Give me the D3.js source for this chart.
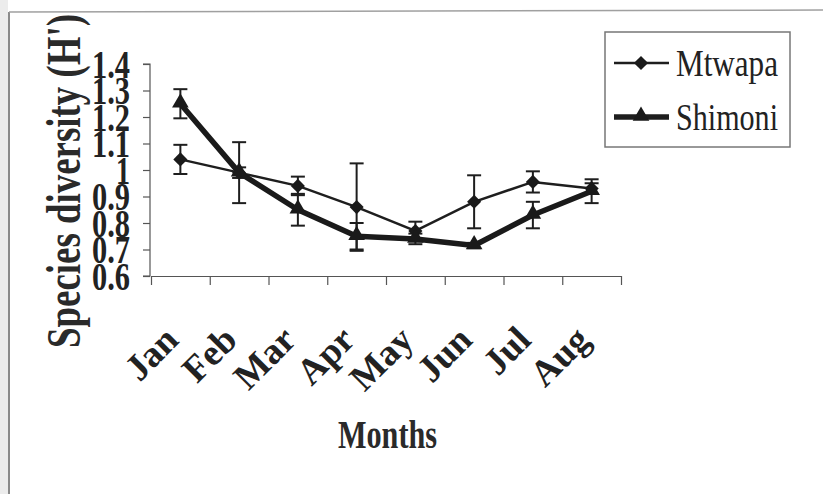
<!DOCTYPE html>
<html>
<head>
<meta charset="utf-8">
<script src="https://cdn.jsdelivr.net/npm/d3@7"></script>
<style>
  html, body { margin: 0; padding: 0; background: #fff; }
  svg { display: block; }
</style>
</head>
<body>
<svg width="823" height="494"></svg>
<script>
(function(){
  'use strict';

  var WIDTH = 823;
  var HEIGHT = 494;
  var SERIF = '"Liberation Serif", "Times New Roman", serif';

  var months = ['Jan', 'Feb', 'Mar', 'Apr', 'May', 'Jun', 'Jul', 'Aug'];
  var yTicks = [0.6, 0.7, 0.8, 0.9, 1.0, 1.1, 1.2, 1.3, 1.4];

  var mtwapa = [1.04, 0.99, 0.94, 0.86, 0.77, 0.88, 0.955, 0.93];
  var mtwapaErr = [0.055, 0.02, 0.035, 0.165, 0.035, 0.1, 0.04, 0.02];
  var shimoni = [1.25, 0.99, 0.85, 0.75, 0.74, 0.715, 0.83, 0.92];
  var shimoniErr = [0.055, 0.115, 0.06, 0.05, 0.02, 0.01, 0.05, 0.045];

  var padding = { top: 64, bottom: 218, left: 151, right: 202 };

  var svg = d3.select('svg');

  // scanned page frame
  svg.append('rect')
    .attr('x', 0).attr('y', 0)
    .attr('width', 8).attr('height', HEIGHT)
    .attr('fill', '#ececec');
  svg.append('line')
    .attr('x1', 9).attr('x2', 9)
    .attr('y1', 12).attr('y2', HEIGHT)
    .attr('stroke', '#8a8a8a').attr('stroke-width', 2);
  svg.append('line')
    .attr('x1', 9).attr('x2', WIDTH)
    .attr('y1', 12).attr('y2', 10)
    .attr('stroke', '#a0a0a0').attr('stroke-width', 1.5);

  var xScale = d3.scaleBand()
    .domain(months)
    .range([padding.left, WIDTH - padding.right]);

  var xEdge = d3.scaleLinear()
    .domain([0, months.length])
    .range([padding.left, WIDTH - padding.right]);

  var yScale = d3.scaleLinear()
    .domain([0.6, 1.4])
    .range([HEIGHT - padding.bottom, padding.top]);

  var cx = function(i) { return xScale(months[i]) + xScale.bandwidth() / 2; };

  // y axis
  var yAxis = svg.append('g')
    .attr('class', 'axis')
    .attr('transform', 'translate(' + [padding.left - 1, 0] + ')')
    .call(d3.axisLeft(yScale)
      .tickValues(yTicks)
      .tickSize(7)
      .tickPadding(13)
      .tickFormat(function(d) { return d === 1 ? '1' : d3.format('.1f')(d); }));
  yAxis.select('.domain').attr('stroke', '#555').attr('stroke-width', 1.2)
    .attr('d', 'M-7,' + yScale(1.4) + 'H0V' + yScale(0.6) + 'H-7');
  yAxis.selectAll('.tick line').attr('stroke', '#555').attr('stroke-width', 1.2);
  yAxis.selectAll('.tick text')
    .attr('font-family', SERIF)
    .attr('font-weight', 'bold')
    .attr('font-size', 40)
    .attr('dy', '0.33em')
    .attr('textLength', function(d) { return d === 1 ? 14 : 38; })
    .attr('lengthAdjust', 'spacingAndGlyphs')
    .attr('fill', '#222');

  // x axis: tick marks between categories
  var xTicksG = svg.append('g')
    .attr('class', 'axis')
    .attr('transform', 'translate(' + [0, yScale(0.6)] + ')')
    .call(d3.axisBottom(xEdge)
      .tickValues(d3.range(0, months.length + 1))
      .tickSize(9)
      .tickSizeOuter(0)
      .tickFormat(''));
  xTicksG.select('.domain').attr('stroke', '#555').attr('stroke-width', 1.2);
  xTicksG.selectAll('.tick line').attr('stroke', '#555').attr('stroke-width', 1.2);

  // x labels
  var xLab = svg.append('g')
    .attr('transform', 'translate(' + [0, yScale(0.6)] + ')')
    .call(d3.axisBottom(xScale).tickSize(0).tickPadding(0));
  xLab.select('.domain').remove();
  xLab.selectAll('.tick text')
    .attr('y', 0).attr('dy', 0)
    .attr('transform', 'translate(0,66) rotate(-45)')
    .style('text-anchor', 'end')
    .attr('font-family', SERIF)
    .attr('font-weight', 'bold')
    .attr('font-size', 37)
    .attr('fill', '#222');

  // error bars
  function errorBars(vals, errs, cls) {
    var g = svg.append('g').attr('class', cls);
    var capW = 7;
    vals.forEach(function(v, i) {
      var x = cx(i);
      var y1 = yScale(v + errs[i]);
      var y2 = yScale(v - errs[i]);
      g.append('line').attr('x1', x).attr('x2', x).attr('y1', y1).attr('y2', y2);
      g.append('line').attr('x1', x - capW).attr('x2', x + capW).attr('y1', y1).attr('y2', y1);
      g.append('line').attr('x1', x - capW).attr('x2', x + capW).attr('y1', y2).attr('y2', y2);
    });
    g.selectAll('line').attr('stroke', '#1e1e1e').attr('stroke-width', 2);
  }
  errorBars(mtwapa, mtwapaErr, 'err-m');
  errorBars(shimoni, shimoniErr, 'err-s');

  var line = d3.line()
    .x(function(d, i) { return cx(i); })
    .y(function(d) { return yScale(d); });

  svg.append('path')
    .datum(mtwapa)
    .attr('d', line)
    .attr('fill', 'none')
    .attr('stroke', '#1e1e1e')
    .attr('stroke-width', 2.5);

  svg.append('path')
    .datum(shimoni)
    .attr('d', line)
    .attr('fill', 'none')
    .attr('stroke', '#1a1a1a')
    .attr('stroke-width', 5.5)
    .attr('stroke-linejoin', 'round');

  var diamond = d3.symbol().type(d3.symbolSquare).size(100);
  var triangle = d3.symbol().type(d3.symbolTriangle).size(120);

  svg.append('g').selectAll('path')
    .data(mtwapa)
    .enter()
    .append('path')
    .attr('d', diamond)
    .attr('transform', function(d, i) {
      return 'translate(' + [cx(i), yScale(d)] + ') rotate(45)';
    })
    .attr('fill', '#1a1a1a');

  svg.append('g').selectAll('path')
    .data(shimoni)
    .enter()
    .append('path')
    .attr('d', triangle)
    .attr('transform', function(d, i) {
      return 'translate(' + [cx(i), yScale(d) - 1] + ')';
    })
    .attr('fill', '#1a1a1a');

  // axis titles
  svg.append('text')
    .attr('transform', 'translate(80,181) rotate(-90)')
    .attr('text-anchor', 'middle')
    .attr('font-family', SERIF)
    .attr('font-weight', 'bold')
    .attr('font-size', 48)
    .attr('textLength', 334)
    .attr('lengthAdjust', 'spacingAndGlyphs')
    .attr('fill', '#2a2a2a')
    .text("Species diversity (H')");

  svg.append('text')
    .attr('x', 338)
    .attr('y', 448)
    .attr('font-family', SERIF)
    .attr('font-weight', 'bold')
    .attr('font-size', 40)
    .attr('textLength', 99)
    .attr('lengthAdjust', 'spacingAndGlyphs')
    .attr('fill', '#2a2a2a')
    .text('Months');

  // legend
  var legend = svg.append('g').attr('class', 'legend');
  legend.append('rect')
    .attr('x', 605).attr('y', 32)
    .attr('width', 185).attr('height', 115)
    .attr('fill', '#fff')
    .attr('stroke', '#777')
    .attr('stroke-width', 1.5);

  var legendItems = [
    { name: 'Mtwapa', sym: diamond, rot: 45, width: 2.5, y: 63 },
    { name: 'Shimoni', sym: triangle, rot: 0, width: 5.5, y: 117 }
  ];
  legendItems.forEach(function(it) {
    legend.append('line')
      .attr('x1', 614).attr('x2', 669)
      .attr('y1', it.y).attr('y2', it.y)
      .attr('stroke', '#1e1e1e')
      .attr('stroke-width', it.width);
    legend.append('path')
      .attr('d', it.sym)
      .attr('transform', 'translate(641,' + (it.y - (it.rot ? 0 : 1)) + ') rotate(' + it.rot + ')')
      .attr('fill', '#1a1a1a');
    legend.append('text')
      .attr('x', 676)
      .attr('y', it.y + 13)
      .attr('font-family', SERIF)
      .attr('font-size', 38)
      .attr('textLength', 102)
      .attr('lengthAdjust', 'spacingAndGlyphs')
      .attr('fill', '#222')
      .text(it.name);
  });
})();
</script>
</body>
</html>
